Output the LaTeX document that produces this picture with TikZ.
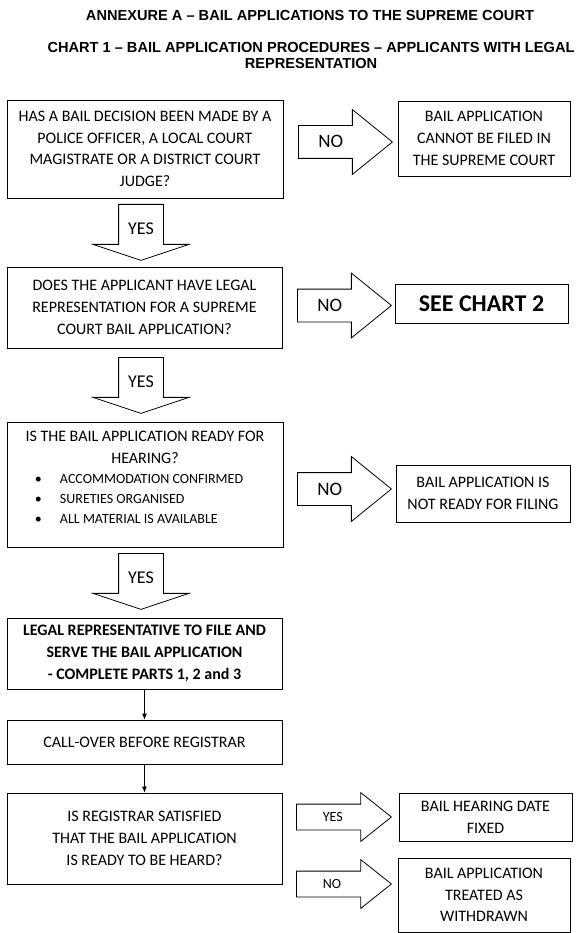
\documentclass[tikz,border=0pt]{standalone}
\usepackage{fontspec}
\setmainfont{Carlito}
\newfontfamily\headfont{Liberation Sans}
\usetikzlibrary{shapes.arrows,arrows.meta}

\tikzset{
  qbox/.style={draw, line width=0.8pt, align=center, inner sep=0pt,
    font=\fontsize{16}{21.7}\selectfont},
  outbox/.style={qbox},
  noarrow/.style={single arrow, draw, line width=0.8pt, anchor=tail, inner sep=0pt,
    minimum height=94pt, minimum width=64pt, single arrow head extend=16pt,
    single arrow tip angle=78, text height=22pt, text depth=10pt,
    font=\fontsize{19}{19}\selectfont},
  smallarrow/.style={noarrow, minimum height=95pt, minimum width=48pt,
    single arrow head extend=11.5pt, single arrow tip angle=77,
    text height=16.7pt, text depth=8.3pt, font=\fontsize{14}{14}\selectfont},
  yesarrow/.style={single arrow, draw, line width=0.8pt, shape border rotate=270,
    anchor=tail, inner sep=0pt, minimum height=56pt, minimum width=95pt,
    single arrow head extend=25.5pt, single arrow tip angle=143,
    text width=44pt, align=center, font=\fontsize{18}{18}\selectfont},
  link/.style={-{Latex[length=6pt,width=5pt]}, line width=0.8pt}
}

\begin{document}
\begin{tikzpicture}[x=1pt,y=-1pt]
\useasboundingbox (0,0) rectangle (577,933);

% Headings
\node[font=\headfont\bfseries\fontsize{14.6}{16}\selectfont] (annex) at (310,15)
  {ANNEXURE A – BAIL APPLICATIONS TO THE SUPREME COURT};
\node[font=\headfont\bfseries\fontsize{14.6}{16}\selectfont, align=center] (chart) at (311,55)
  {CHART 1 – BAIL APPLICATION PROCEDURES – APPLICANTS WITH LEGAL\\REPRESENTATION};

% Main column
\node[qbox, minimum width=276pt, minimum height=98pt] (decision) at (145,149)
  {HAS A BAIL DECISION BEEN MADE BY A\\POLICE OFFICER, A LOCAL COURT\\MAGISTRATE OR A DISTRICT COURT\\JUDGE?};
\node[qbox, minimum width=275pt, minimum height=81pt] (legalrep) at (144.5,307.5)
  {DOES THE APPLICANT HAVE LEGAL\\REPRESENTATION FOR A SUPREME\\COURT BAIL APPLICATION?};
\node[qbox, minimum width=276pt, minimum height=125pt, align=left] (ready) at (145,484.5)
  {\parbox{276pt}{\centering IS THE BAIL APPLICATION READY FOR\\HEARING?\par
   \fontsize{14}{20}\selectfont\raggedright
   \hspace*{28pt}\makebox[25pt][l]{\textbullet}ACCOMMODATION CONFIRMED\\
   \hspace*{28pt}\makebox[25pt][l]{\textbullet}SURETIES ORGANISED\\
   \hspace*{28pt}\makebox[25pt][l]{\textbullet}ALL MATERIAL IS AVAILABLE\\[14pt]}};
\node[qbox, font=\bfseries\fontsize{16}{21.7}\selectfont, minimum width=275pt, minimum height=71pt] (file) at (144.5,653.5)
  {LEGAL REPRESENTATIVE TO FILE AND\\SERVE THE BAIL APPLICATION\\- COMPLETE PARTS 1, 2 and 3};
\node[qbox, minimum width=275pt, minimum height=44pt] (callover) at (144.5,742)
  {CALL-OVER BEFORE REGISTRAR};
\node[qbox, minimum width=275pt, minimum height=91pt] (satisfied) at (144.5,838.5)
  {IS REGISTRAR SATISFIED\\THAT THE BAIL APPLICATION\\IS READY TO BE HEARD?};

% Outcomes
\node[outbox, minimum width=172pt, minimum height=75pt] (notfiled) at (484,138.5)
  {BAIL APPLICATION\\CANNOT BE FILED IN\\THE SUPREME COURT};
\node[outbox, font=\bfseries\fontsize{24}{24}\selectfont, minimum width=173pt, minimum height=39pt] (chart2) at (481.5,303.5)
  {SEE CHART 2};
\node[outbox, minimum width=174pt, minimum height=57pt] (notready) at (483,493.5)
  {BAIL APPLICATION IS\\NOT READY FOR FILING};
\node[outbox, minimum width=173pt, minimum height=48pt] (datefixed) at (485.5,817)
  {BAIL HEARING DATE\\FIXED};
\node[outbox, minimum width=172pt, minimum height=74pt] (withdrawn) at (484,895)
  {BAIL APPLICATION\\TREATED AS\\WITHDRAWN};

% Block arrows
\node[noarrow] (no1) at (298,142) {\makebox[34pt][l]{NO}};
\node[noarrow] (no2) at (297,305.5) {\makebox[34pt][l]{NO}};
\node[noarrow] (no3) at (297,489) {\makebox[34pt][l]{NO}};
\node[smallarrow] (yes4) at (296,817) {\makebox[26pt][l]{YES}};
\node[smallarrow] (no4) at (296,884) {\makebox[26pt][l]{NO}};
\node[yesarrow] (yes1) at (141,204) {YES};
\node[yesarrow] (yes2) at (141,357) {YES};
\node[yesarrow] (yes3) at (141,553) {YES};

% Plain arrows
\draw[link] (file) -- (callover);
\draw[link] (callover) -- (satisfied);
\end{tikzpicture}
\end{document}
